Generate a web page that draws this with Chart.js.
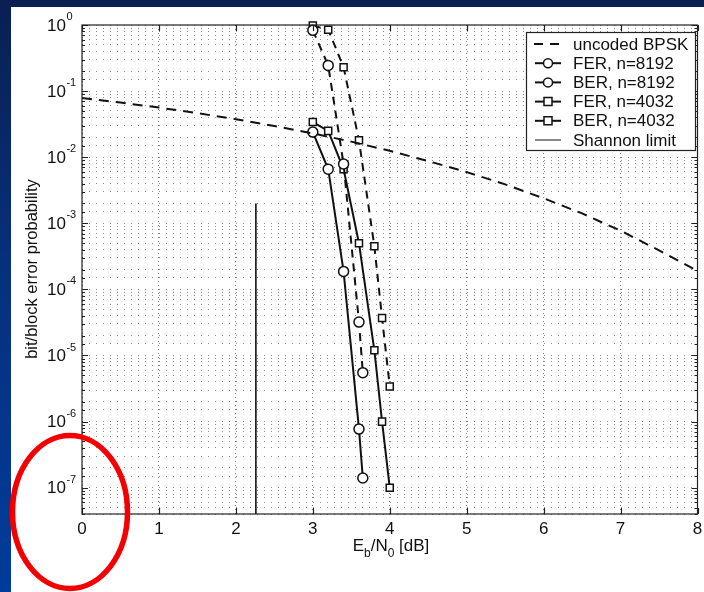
<!DOCTYPE html>
<html>
<head>
<meta charset="utf-8">
<script src="https://cdn.jsdelivr.net/npm/chart.js@4.4.1/dist/chart.umd.min.js"></script>
<style>
  html, body { margin: 0; padding: 0; width: 704px; height: 592px; overflow: hidden; }
  body { position: relative; background: linear-gradient(180deg, #0a1f52 0%, #07307c 45%, #003c9c 100%); }
  #panel { position: absolute; left: 11px; top: 7px; right: 0; bottom: 0; background: #fff; }
  #chart { position: absolute; left: 0; top: 0; }
</style>
</head>
<body>
<div id="panel"></div>
<canvas id="chart" width="704" height="592"></canvas>
<script>
// valeurs
const bpskX = [0, 0.5, 1, 1.5, 2, 2.5, 3, 3.5, 4, 4.5, 5, 5.5, 6, 6.5, 7, 7.5, 8];
const bpskY = [0.0786, 0.0671, 0.0563, 0.0464, 0.0375, 0.0296, 0.0229, 0.0172, 0.0125, 0.00873, 0.00595, 0.00388, 0.00239, 0.00141, 0.000773, 0.000389, 0.000191];

const fer8192X = [3.0, 3.2, 3.4, 3.6, 3.65];
const fer8192Y = [0.83, 0.245, 0.0079, 3.2e-5, 5.5e-6];
const ber8192X = [3.0, 3.2, 3.4, 3.6, 3.65];
const ber8192Y = [0.024, 0.0066, 1.87e-4, 7.7e-7, 1.4e-7];

const fer4032X = [3.0, 3.2, 3.4, 3.6, 3.8, 3.9, 4.0];
const fer4032Y = [0.98, 0.85, 0.23, 0.018, 4.5e-4, 3.7e-5, 3.4e-6];
const ber4032X = [3.0, 3.2, 3.4, 3.6, 3.8, 3.9, 4.0];
const ber4032Y = [0.034, 0.025, 0.0066, 5.0e-4, 1.2e-5, 1.0e-6, 1.0e-7];

const shannonX = [2.26, 2.26];
const shannonY = [2.0e-3, 4e-8];

const xTicks = [0, 1, 2, 3, 4, 5, 6, 7, 8];
const yExponents = [0, -1, -2, -3, -4, -5, -6, -7];
const legendLabels = ["uncoded BPSK", "FER, n=8192", "BER, n=8192", "FER, n=4032", "BER, n=4032", "Shannon limit"];

const FONT = '"Liberation Sans", Arial, sans-serif';
const pts = (xs, ys) => xs.map((x, i) => ({ x, y: ys[i] }));

function series(label, xs, ys, opts = {}) {
  return {
    label,
    data: pts(xs, ys),
    showLine: true,
    borderColor: "#111",
    backgroundColor: "#fff",
    borderWidth: opts.width ?? 2,
    borderDash: opts.dash || [],
    pointStyle: opts.marker || "circle",
    pointRadius: opts.marker ? 5 : 0,
    pointBorderWidth: 1.5,
    pointBorderColor: "#111",
    pointBackgroundColor: "#fff",
    tension: 0,
    clip: false
  };
}

const datasets = [
  series(legendLabels[0], bpskX, bpskY, { dash: [10, 7] }),
  series(legendLabels[1], fer8192X, fer8192Y, { dash: [8, 6], marker: "circle" }),
  series(legendLabels[2], ber8192X, ber8192Y, { marker: "circle" }),
  series(legendLabels[3], fer4032X, fer4032Y, { dash: [8, 6], marker: "rect" }),
  series(legendLabels[4], ber4032X, ber4032Y, { marker: "rect" }),
  series(legendLabels[5], shannonX, shannonY, { width: 1.6 })
];

const matlabDecor = {
  id: "matlabDecor",
  afterDatasetsDraw(chart) {
    const { ctx, chartArea: a, scales: { x, y } } = chart;
    ctx.save();

    // cadre + graduations intérieures
    ctx.strokeStyle = "#222";
    ctx.lineWidth = 1.2;
    ctx.strokeRect(a.left, a.top, a.right - a.left, a.bottom - a.top);
    ctx.beginPath();
    xTicks.forEach((t) => {
      const px = Math.round(x.getPixelForValue(t)) + 0.5;
      ctx.moveTo(px, a.bottom); ctx.lineTo(px, a.bottom - 6);
      ctx.moveTo(px, a.top); ctx.lineTo(px, a.top + 6);
    });
    y.ticks.forEach((t) => {
      const py = Math.round(y.getPixelForValue(t.value)) + 0.5;
      const major = Math.abs(Math.log10(t.value) - Math.round(Math.log10(t.value))) < 1e-6;
      const len = major ? 6 : 3;
      ctx.moveTo(a.left, py); ctx.lineTo(a.left + len, py);
      ctx.moveTo(a.right, py); ctx.lineTo(a.right - len, py);
    });
    ctx.stroke();

    // légende
    const lx = 526, ly = 32, lw = 169, lh = 118;
    ctx.fillStyle = "#fff";
    ctx.fillRect(lx, ly, lw, lh);
    ctx.strokeStyle = "#222";
    ctx.lineWidth = 1.2;
    ctx.strokeRect(lx + 0.5, ly + 0.5, lw, lh);
    ctx.font = `17px ${FONT}`;
    ctx.textBaseline = "middle";
    ctx.textAlign = "left";
    legendLabels.forEach((label, i) => {
      const ds = datasets[i];
      const ry = 44 + i * 19.2;
      ctx.strokeStyle = "#111";
      ctx.lineWidth = i === 5 ? 1 : 2;
      ctx.setLineDash(i === 0 ? [9, 7] : []);
      ctx.beginPath();
      ctx.moveTo(i === 0 ? 534 : 535, ry); ctx.lineTo(561, ry);
      ctx.stroke();
      ctx.setLineDash([]);
      if (ds.pointRadius) {
        ctx.lineWidth = 1.5;
        ctx.fillStyle = "#fff";
        ctx.beginPath();
        if (ds.pointStyle === "rect") ctx.rect(544, ry - 4, 8, 8);
        else ctx.arc(548, ry, 4.5, 0, Math.PI * 2);
        ctx.fill(); ctx.stroke();
      }
      ctx.fillStyle = "#111";
      ctx.fillText(label, 573, ry + 1);
    });
    ctx.restore();
  },
  afterDraw(chart) {
    const { ctx, scales: { x, y } } = chart;
    ctx.save();
    ctx.fillStyle = "#111";

    // étiquettes y : 10^n
    yExponents.forEach((e) => {
      const py = y.getPixelForValue(Math.pow(10, e));
      ctx.font = `17px ${FONT}`;
      ctx.textAlign = "left";
      ctx.textBaseline = "middle";
      ctx.fillText("10", 47, py + 1);
      const w = ctx.measureText("10").width;
      ctx.font = `11px ${FONT}`;
      ctx.fillText(String(e), 47 + w + 0.5, py - 8);
    });

    // étiquettes x
    ctx.font = `17px ${FONT}`;
    ctx.textAlign = "center";
    ctx.textBaseline = "middle";
    xTicks.forEach((t) => ctx.fillText(String(t), x.getPixelForValue(t), 529));

    // titre x : Eb/N0 [dB]
    const parts = [["E", 17, 0], ["b", 12, 6], ["/N", 17, 0], ["0", 12, 6], [" [dB]", 17, 0]];
    ctx.textAlign = "left";
    ctx.textBaseline = "alphabetic";
    let total = 0;
    parts.forEach(([s, size]) => { ctx.font = `${size}px ${FONT}`; total += ctx.measureText(s).width; });
    let cx = 391 - total / 2;
    parts.forEach(([s, size, dy]) => {
      ctx.font = `${size}px ${FONT}`;
      ctx.fillText(s, cx, 551 + dy);
      cx += ctx.measureText(s).width;
    });

    // titre y
    ctx.save();
    ctx.translate(32, 269);
    ctx.rotate(-Math.PI / 2);
    ctx.font = `16.5px ${FONT}`;
    ctx.textAlign = "center";
    ctx.textBaseline = "middle";
    ctx.fillText("bit/block error probability", 0, 0);
    ctx.restore();

    // ellipse rouge
    ctx.strokeStyle = "#f50000";
    ctx.lineWidth = 5.5;
    ctx.beginPath();
    ctx.ellipse(70, 512, 57.5, 76.5, 0, 0, Math.PI * 2);
    ctx.stroke();
    ctx.restore();
  }
};

new Chart(document.getElementById("chart").getContext("2d"), {
  type: "scatter",
  data: { datasets },
  options: {
    responsive: false,
    animation: false,
    events: [],
    layout: { padding: { left: 0, top: 25, right: 4, bottom: 0 } },
    plugins: { legend: { display: false }, tooltip: { enabled: false } },
    scales: {
      x: {
        type: "linear",
        min: 0,
        max: 8,
        ticks: { stepSize: 1, display: false },
        grid: { color: "rgba(0,0,0,0.5)", drawTicks: false, lineWidth: 1 },
        border: { display: false, dash: [1, 3] },
        afterFit: (scale) => { scale.height = 78; }
      },
      y: {
        type: "logarithmic",
        min: 4e-8,
        max: 1,
        ticks: { display: false },
        grid: { color: "rgba(0,0,0,0.45)", drawTicks: false, lineWidth: 1 },
        border: { display: false, dash: [1, 6] },
        afterFit: (scale) => { scale.width = 82; }
      }
    }
  },
  plugins: [matlabDecor]
});
</script>
</body>
</html>
